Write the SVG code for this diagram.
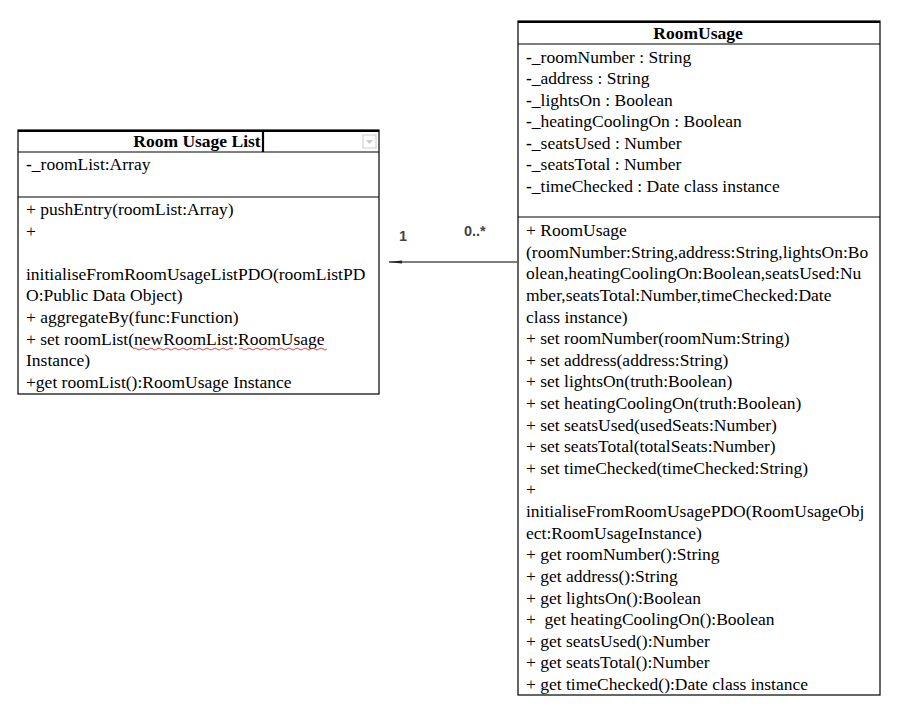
<svg xmlns="http://www.w3.org/2000/svg" width="900" height="719" viewBox="0 0 900 719">
<style>
.t{font-family:"Liberation Serif","Times New Roman",serif;font-size:17.5px;fill:#000}
.b{font-weight:bold}
.box{fill:#fff;stroke:#000;stroke-width:1.2}
.ln{stroke:#000;stroke-width:1.2}
.thick{stroke:#000;stroke-width:2.2}
.lbl{font-family:"Liberation Sans",Arial,sans-serif;font-size:14.5px;font-weight:bold;fill:#444}
.conn{stroke:#555;stroke-width:1.3;fill:none}
.sq{stroke:#d33;stroke-width:0.9;fill:none}
</style>
<defs>
<marker id="arr" markerWidth="14" markerHeight="6" refX="13" refY="3" orient="auto" markerUnits="userSpaceOnUse">
<path d="M14,3 L0,1.4 L0,4.6 Z" fill="#222"/>
</marker>
</defs>
<rect width="900" height="719" fill="#fff"/>

<g id="room-usage-list">
<rect class="box" x="18" y="130" width="361" height="264"/>
<line class="thick" x1="18" y1="131" x2="379" y2="131"/>
<line class="thick" x1="263" y1="131" x2="263" y2="152"/>
<line class="ln" x1="18" y1="152" x2="379" y2="152"/>
<line class="ln" x1="18" y1="197" x2="379" y2="197"/>
<rect x="363" y="135" width="13" height="13" fill="#fff" stroke="#ccc" stroke-width="1"/>
<path d="M366,140 L373,140 L369.5,144 Z" fill="#ccc"/>
<text class="t b" x="197" y="147" text-anchor="middle">Room Usage List</text>
<text class="t" x="26" y="170"><tspan class="b">-</tspan>_roomList:Array</text>
<text class="t" x="26" y="215">+ pushEntry(roomList:Array)</text>
<text class="t" x="26" y="236.6">+</text>
<text class="t" x="26" y="279.8">initialiseFromRoomUsageListPDO(roomListPD</text>
<text class="t" x="26" y="301.4">O:Public Data Object)</text>
<text class="t" x="26" y="323">+ aggregateBy(func:Function)</text>
<text class="t" x="26" y="344.6">+ set roomList(newRoomList:RoomUsage</text>
<text class="t" x="26" y="366.2">Instance)</text>
<text class="t" x="26" y="387.8">+get roomList():RoomUsage Instance</text>
<path class="sq" d="M133,349 q2,-2 4,0 t4,0 t4,0 t4,0 t4,0 t4,0 t4,0 t4,0 t4,0 t4,0 t4,0 t4,0 t4,0 t4,0 t4,0 t4,0 t4,0 t4,0 t4,0 t4,0 t4,0 t4,0 t4,0 t4,0 t4,0"/>
<path class="sq" d="M239,349 q2,-2 4,0 t4,0 t4,0 t4,0 t4,0 t4,0 t4,0 t4,0 t4,0 t4,0 t4,0 t4,0 t4,0 t4,0 t4,0 t4,0 t4,0 t4,0 t4,0 t4,0 t4,0 t4,0"/>
</g>

<g id="room-usage">
<rect class="box" x="518" y="21" width="362" height="674"/>
<line class="thick" x1="518" y1="22" x2="880" y2="22"/>
<line class="ln" x1="518" y1="44" x2="880" y2="44"/>
<line class="ln" x1="518" y1="217" x2="880" y2="217"/>
<text class="t b" x="698" y="39" text-anchor="middle">RoomUsage</text>
<text class="t" x="526" y="62.5"><tspan class="b">-</tspan>_roomNumber : String</text>
<text class="t" x="526" y="84"><tspan class="b">-</tspan>_address : String</text>
<text class="t" x="526" y="105.5"><tspan class="b">-</tspan>_lightsOn : Boolean</text>
<text class="t" x="526" y="127"><tspan class="b">-</tspan>_heatingCoolingOn : Boolean</text>
<text class="t" x="526" y="148.5"><tspan class="b">-</tspan>_seatsUsed : Number</text>
<text class="t" x="526" y="170"><tspan class="b">-</tspan>_seatsTotal : Number</text>
<text class="t" x="526" y="191.5"><tspan class="b">-</tspan>_timeChecked : Date class instance</text>
<text class="t" x="526" y="236">+ RoomUsage</text>
<text class="t" x="526" y="257.6">(roomNumber:String,address:String,lightsOn:Bo</text>
<text class="t" x="526" y="279.2">olean,heatingCoolingOn:Boolean,seatsUsed:Nu</text>
<text class="t" x="526" y="300.9">mber,seatsTotal:Number,timeChecked:Date</text>
<text class="t" x="526" y="322.5">class instance)</text>
<text class="t" x="526" y="344.1">+ set roomNumber(roomNum:String)</text>
<text class="t" x="526" y="365.7">+ set address(address:String)</text>
<text class="t" x="526" y="387.3">+ set lightsOn(truth:Boolean)</text>
<text class="t" x="526" y="409">+ set heatingCoolingOn(truth:Boolean)</text>
<text class="t" x="526" y="430.6">+ set seatsUsed(usedSeats:Number)</text>
<text class="t" x="526" y="452.2">+ set seatsTotal(totalSeats:Number)</text>
<text class="t" x="526" y="473.8">+ set timeChecked(timeChecked:String)</text>
<text class="t" x="526" y="495.4">+</text>
<text class="t" x="526" y="517">initialiseFromRoomUsagePDO(RoomUsageObj</text>
<text class="t" x="526" y="538.7">ect:RoomUsageInstance)</text>
<text class="t" x="526" y="560.3">+ get roomNumber():String</text>
<text class="t" x="526" y="581.9">+ get address():String</text>
<text class="t" x="526" y="603.5">+ get lightsOn():Boolean</text>
<text class="t" x="526" y="625.1" xml:space="preserve">+  get heatingCoolingOn():Boolean</text>
<text class="t" x="526" y="646.8">+ get seatsUsed():Number</text>
<text class="t" x="526" y="668.4">+ get seatsTotal():Number</text>
<text class="t" x="526" y="690">+ get timeChecked():Date class instance</text>
</g>

<g id="connectors">
<line class="conn" x1="518" y1="262" x2="389" y2="262" marker-end="url(#arr)"/>
<text class="lbl" x="399" y="241">1</text>
<text class="lbl" x="464" y="236">0..*</text>
</g>
</svg>
